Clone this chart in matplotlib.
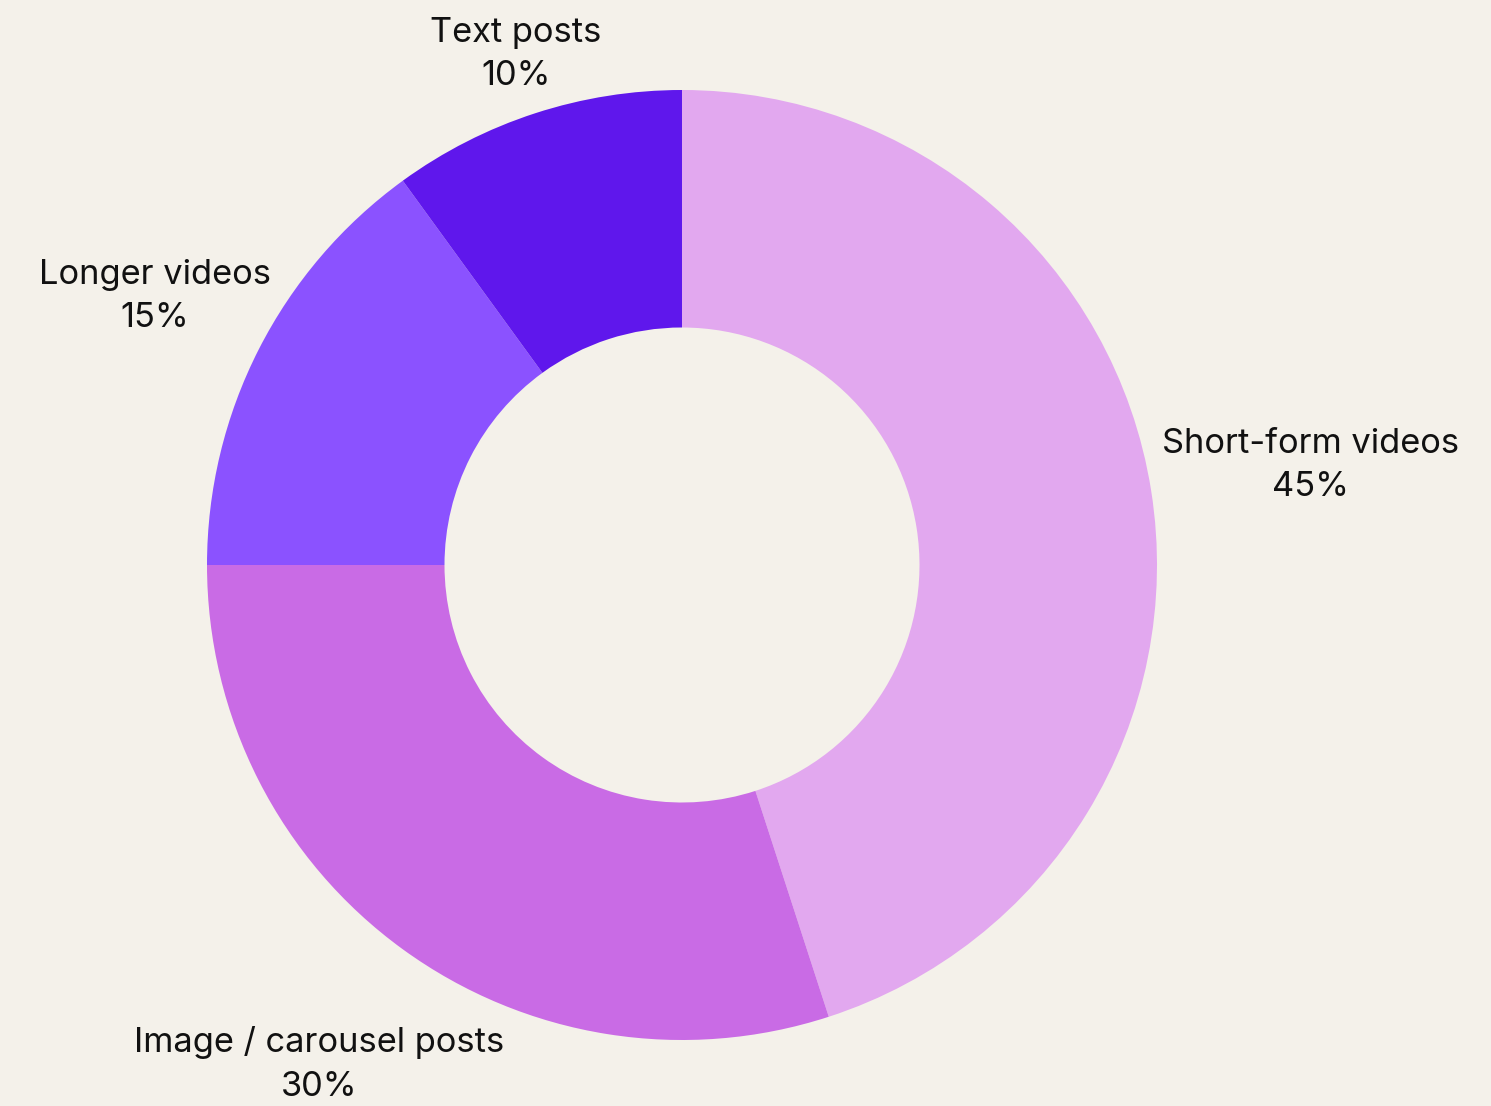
import matplotlib
matplotlib.use("Agg")
import matplotlib.pyplot as plt
import numpy as np

categories = ["Short-form videos", "Image / carousel posts", "Longer videos", "Text posts"]
values = [45, 30, 15, 10]
colors = ["#E2A8EF", "#C96BE5", "#8B52FF", "#5F17EC"]
label_dist = [1.34, 1.30, 1.245, 1.13]

bg = "#F4F1EA"
plt.rcParams['font.family'] = ['Inter', 'DejaVu Sans']

fig = plt.figure(figsize=(14.91, 11.06), dpi=100, facecolor=bg)
ax = fig.add_axes([0, 0, 1, 1])
ax.set_facecolor(bg)

wedges, _ = ax.pie(values, colors=colors, startangle=90, counterclock=False,
                   radius=1.0, wedgeprops=dict(width=0.5, edgecolor='none'))

for w, cat, v, d in zip(wedges, categories, values, label_dist):
    ang = np.deg2rad((w.theta1 + w.theta2) / 2)
    x, y = d * np.cos(ang), d * np.sin(ang)
    ax.text(x, y, f"{cat}\n{v}%", ha='center', va='center', fontsize=24.8,
            color='#111111', linespacing=1.45)

s = 475.0
ax.set_xlim(-682 / s, (1491 - 682) / s)
ax.set_ylim(-(1106 - 565) / s, 565 / s)
ax.set_aspect('equal')
ax.axis('off')

fig.savefig("out.png", dpi=100, facecolor=bg)
